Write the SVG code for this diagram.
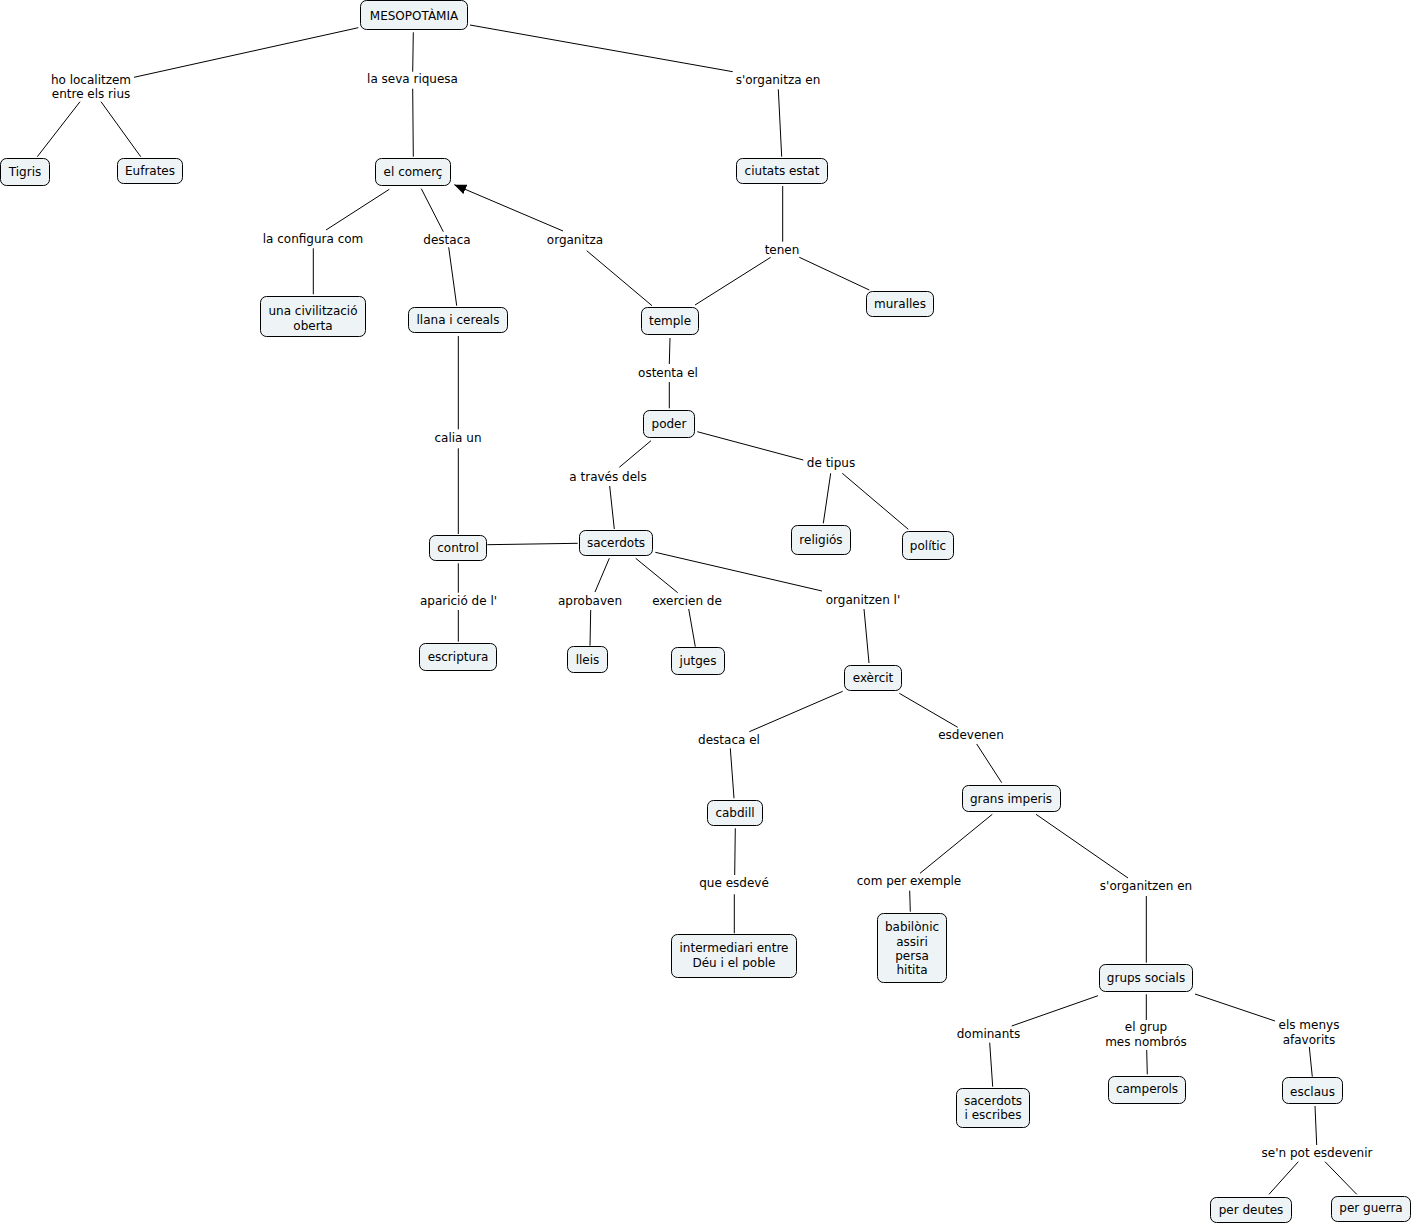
<svg xmlns="http://www.w3.org/2000/svg" width="1413" height="1227" viewBox="0 0 1413 1227">
<style>
  .node rect { fill: #eef4f6; stroke: #000; stroke-width: 1; }
  text { font-family: "DejaVu Sans", Verdana, "Liberation Sans", sans-serif; font-size: 12px; fill: #000; text-anchor: middle; }
  #connectors line { stroke: #000; stroke-width: 1; }
</style>
<defs>
  <marker id="arrow" viewBox="0 0 12 10" refX="12" refY="5" markerWidth="12" markerHeight="10" markerUnits="userSpaceOnUse" orient="auto">
    <path d="M0,0 L12,5 L0,10 z" fill="#000"/>
  </marker>
</defs>
<rect width="1413" height="1227" fill="#fff"/>
<g id="connectors">
  <line x1="358.3" y1="27.7" x2="134" y2="77.3"/>
  <line x1="80" y1="101.7" x2="37.3" y2="156.7"/>
  <line x1="101" y1="101.7" x2="140.7" y2="156.7"/>
  <line x1="413.3" y1="32.3" x2="412.7" y2="71.7"/>
  <line x1="412.7" y1="88.7" x2="413.3" y2="156.7"/>
  <line x1="470" y1="25" x2="732.7" y2="71.7"/>
  <line x1="778.3" y1="89.3" x2="781.7" y2="156.7"/>
  <line x1="389.3" y1="189.3" x2="326" y2="230"/>
  <line x1="313.3" y1="248.3" x2="313.3" y2="294.3"/>
  <line x1="421.3" y1="188.7" x2="443.3" y2="231.7"/>
  <line x1="448.7" y1="247.3" x2="456.7" y2="305.7"/>
  <line x1="652" y1="305.7" x2="586.7" y2="250.7"/>
  <line x1="563" y1="231" x2="454.3" y2="184.7" marker-end="url(#arrow)"/>
  <line x1="782.7" y1="186" x2="782.7" y2="241.7"/>
  <line x1="770.7" y1="257.3" x2="695" y2="305"/>
  <line x1="799.3" y1="257.3" x2="869.3" y2="290"/>
  <line x1="670" y1="338" x2="669.3" y2="364"/>
  <line x1="669.3" y1="382" x2="669.3" y2="408.3"/>
  <line x1="458.3" y1="336" x2="458.3" y2="429.3"/>
  <line x1="458.3" y1="448.3" x2="458.3" y2="534"/>
  <line x1="651" y1="440.7" x2="619.3" y2="467.3"/>
  <line x1="609.7" y1="486" x2="614.3" y2="529"/>
  <line x1="697.3" y1="431.7" x2="803.3" y2="460"/>
  <line x1="830.7" y1="473.3" x2="823.3" y2="523.3"/>
  <line x1="842.3" y1="473.3" x2="908.3" y2="529.3"/>
  <line x1="487.3" y1="544.7" x2="577.7" y2="543.3"/>
  <line x1="458.3" y1="563.3" x2="458.3" y2="592.7"/>
  <line x1="458.3" y1="610" x2="458.3" y2="641.7"/>
  <line x1="609.3" y1="558.3" x2="595" y2="592"/>
  <line x1="590.7" y1="610" x2="590" y2="645.7"/>
  <line x1="635.7" y1="558.3" x2="677.7" y2="592.7"/>
  <line x1="688.7" y1="609" x2="695.3" y2="646.7"/>
  <line x1="655.3" y1="552.3" x2="822" y2="591"/>
  <line x1="864" y1="609" x2="869" y2="663"/>
  <line x1="842.7" y1="691.3" x2="749.3" y2="731.7"/>
  <line x1="730.3" y1="748.3" x2="734" y2="798.3"/>
  <line x1="899.3" y1="693.3" x2="957.7" y2="727.3"/>
  <line x1="976.7" y1="744" x2="1001.7" y2="782.7"/>
  <line x1="735.3" y1="828.3" x2="734.7" y2="875"/>
  <line x1="734.3" y1="894.3" x2="734.3" y2="933.3"/>
  <line x1="992.3" y1="814.3" x2="920" y2="873.3"/>
  <line x1="909.7" y1="890.7" x2="910.3" y2="911.7"/>
  <line x1="1036" y1="814.3" x2="1128" y2="878"/>
  <line x1="1146.3" y1="896" x2="1146.3" y2="962.7"/>
  <line x1="1098" y1="995.7" x2="1011.7" y2="1026"/>
  <line x1="989.7" y1="1042.7" x2="992.7" y2="1086.7"/>
  <line x1="1146.3" y1="994.3" x2="1146.3" y2="1020"/>
  <line x1="1146.7" y1="1050" x2="1147.3" y2="1074.3"/>
  <line x1="1195" y1="994" x2="1275" y2="1021"/>
  <line x1="1309.3" y1="1047" x2="1312.3" y2="1076.7"/>
  <line x1="1315" y1="1106" x2="1316.7" y2="1145"/>
  <line x1="1298.3" y1="1161.7" x2="1269" y2="1194.3"/>
  <line x1="1325" y1="1161.7" x2="1356.7" y2="1194.3"/>
</g>
<g id="labels">
  <text x="91" y="83.5">ho localitzem</text>
  <text x="91" y="98">entre els rius</text>
  <text x="412.5" y="83">la seva riquesa</text>
  <text x="778" y="83.5">s'organitza en</text>
  <text x="313" y="242.5">la configura com</text>
  <text x="447" y="243.5">destaca</text>
  <text x="575" y="243.5">organitza</text>
  <text x="782" y="253.5">tenen</text>
  <text x="668" y="376.5">ostenta el</text>
  <text x="458" y="441.5">calia un</text>
  <text x="608" y="481">a través dels</text>
  <text x="831" y="467">de tipus</text>
  <text x="458.5" y="605">aparició de l'</text>
  <text x="590" y="605">aprobaven</text>
  <text x="687" y="605">exercien de</text>
  <text x="863" y="604">organitzen l'</text>
  <text x="729" y="744">destaca el</text>
  <text x="971" y="739">esdevenen</text>
  <text x="734" y="887">que esdevé</text>
  <text x="909" y="885">com per exemple</text>
  <text x="1146" y="890">s'organitzen en</text>
  <text x="988.5" y="1038">dominants</text>
  <text x="1146" y="1031">el grup</text>
  <text x="1146" y="1045.5">mes nombrós</text>
  <text x="1309" y="1029">els menys</text>
  <text x="1309" y="1043.5">afavorits</text>
  <text x="1317" y="1157">se'n pot esdevenir</text>
</g>
<g id="n1" class="node"><rect x="360.5" y="0.5" width="107" height="29" rx="6"/><text x="414" y="20">MESOPOTÀMIA</text></g>
<g id="n2" class="node"><rect x="0.5" y="158.5" width="49" height="27" rx="6"/><text x="25" y="175.5">Tigris</text></g>
<g id="n3" class="node"><rect x="117.5" y="158.5" width="65" height="25" rx="6"/><text x="150" y="175">Eufrates</text></g>
<g id="n4" class="node"><rect x="375.5" y="158.5" width="75" height="27" rx="6"/><text x="413" y="175.5">el comerç</text></g>
<g id="n5" class="node"><rect x="736.5" y="158.5" width="91" height="25" rx="6"/><text x="782" y="175">ciutats estat</text></g>
<g id="n6" class="node"><rect x="260.5" y="296.5" width="105" height="40" rx="6"/><text x="313" y="315">una civilització</text><text x="313" y="330">oberta</text></g>
<g id="n7" class="node"><rect x="408.5" y="307.5" width="99" height="25" rx="6"/><text x="458" y="324">llana i cereals</text></g>
<g id="n8" class="node"><rect x="641.5" y="307.5" width="57" height="27" rx="6"/><text x="670" y="325">temple</text></g>
<g id="n9" class="node"><rect x="866.5" y="291.5" width="67" height="25" rx="6"/><text x="900" y="308">muralles</text></g>
<g id="n10" class="node"><rect x="643.5" y="410.5" width="51" height="27" rx="6"/><text x="669" y="428">poder</text></g>
<g id="n11" class="node"><rect x="791.5" y="525.5" width="59" height="29" rx="6"/><text x="821" y="544">religiós</text></g>
<g id="n12" class="node"><rect x="902.5" y="531.5" width="51" height="28" rx="6"/><text x="928" y="549.5">polític</text></g>
<g id="n13" class="node"><rect x="429.5" y="535.5" width="57" height="25" rx="6"/><text x="458" y="552">control</text></g>
<g id="n14" class="node"><rect x="579.5" y="530.5" width="73" height="25" rx="6"/><text x="616" y="547">sacerdots</text></g>
<g id="n15" class="node"><rect x="419.5" y="643.5" width="77" height="27" rx="6"/><text x="458" y="661">escriptura</text></g>
<g id="n16" class="node"><rect x="567.5" y="646.5" width="40" height="26" rx="6"/><text x="587.5" y="663.5">lleis</text></g>
<g id="n17" class="node"><rect x="671.5" y="647.5" width="53" height="27" rx="6"/><text x="698" y="665">jutges</text></g>
<g id="n18" class="node"><rect x="844.5" y="665.5" width="57" height="25" rx="6"/><text x="873" y="682">exèrcit</text></g>
<g id="n19" class="node"><rect x="707.5" y="800.5" width="55" height="25" rx="6"/><text x="735" y="817">cabdill</text></g>
<g id="n20" class="node"><rect x="962.5" y="785.5" width="98" height="26" rx="6"/><text x="1011" y="802.5">grans imperis</text></g>
<g id="n21" class="node"><rect x="671.5" y="934.5" width="125" height="43" rx="6"/><text x="734" y="952">intermediari entre</text><text x="734" y="967">Déu i el poble</text></g>
<g id="n22" class="node"><rect x="877.5" y="913.5" width="69" height="69" rx="6"/><text x="912" y="931">babilònic</text><text x="912" y="945.5">assiri</text><text x="912" y="960">persa</text><text x="912" y="974">hitita</text></g>
<g id="n23" class="node"><rect x="1099.5" y="964.5" width="93" height="27" rx="6"/><text x="1146" y="982">grups socials</text></g>
<g id="n24" class="node"><rect x="956.5" y="1088.5" width="73" height="39" rx="6"/><text x="993" y="1105">sacerdots</text><text x="993" y="1119">i escribes</text></g>
<g id="n25" class="node"><rect x="1108.5" y="1076.5" width="77" height="27" rx="6"/><text x="1147" y="1093">camperols</text></g>
<g id="n26" class="node"><rect x="1282.5" y="1077.5" width="60" height="26" rx="6"/><text x="1312.5" y="1095.5">esclaus</text></g>
<g id="n27" class="node"><rect x="1210.5" y="1197.5" width="81" height="25" rx="6"/><text x="1251" y="1214">per deutes</text></g>
<g id="n28" class="node"><rect x="1331.5" y="1196.5" width="79" height="25" rx="6"/><text x="1371" y="1212">per guerra</text></g>
</svg>
